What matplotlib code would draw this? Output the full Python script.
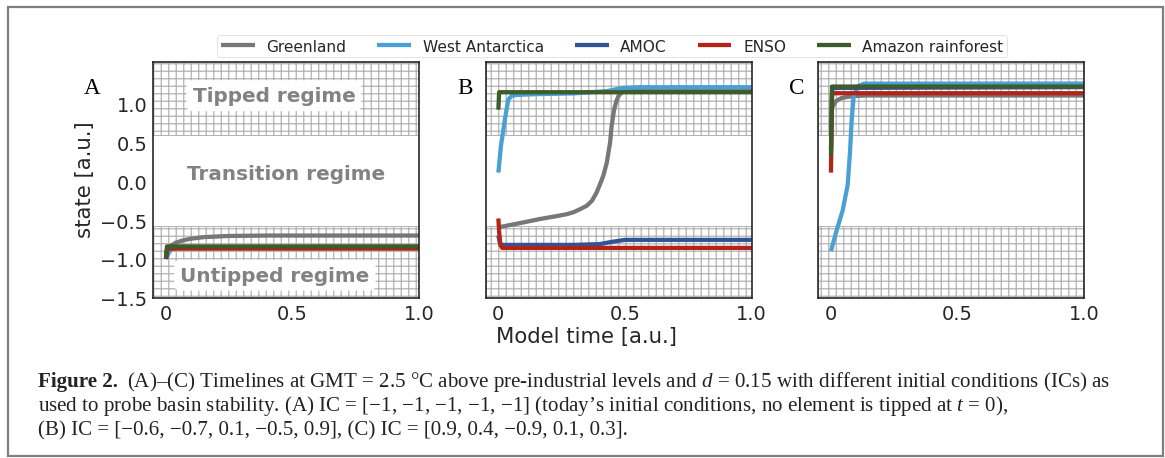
import numpy as np
import matplotlib.pyplot as plt
from matplotlib.patches import Rectangle

plt.rcParams['mathtext.fontset'] = 'custom'
plt.rcParams['mathtext.rm'] = 'Liberation Serif'
plt.rcParams['mathtext.it'] = 'Liberation Serif:italic'
plt.rcParams['hatch.linewidth'] = 1.0
plt.rcParams['hatch.color'] = '#b3b3b3'

elements = ['Greenland', 'West Antarctica', 'AMOC', 'ENSO', 'Amazon rainforest']
colors = ['#787676', '#4a9fd5', '#2f5597', '#b3231a', '#3c5c2a']

# panel A, IC = [-1, -1, -1, -1, -1]
a_gis_t = [0, 0.005, 0.02, 0.04, 0.07, 0.1, 0.15, 0.25, 0.4, 1.0]
a_gis = [-1.0, -0.9, -0.83, -0.79, -0.76, -0.74, -0.72, -0.705, -0.70, -0.70]
a_wais_t = [0, 0.01, 0.02, 0.04, 1.0]
a_wais = [-1.0, -0.93, -0.88, -0.86, -0.85]
a_amoc_t = [0, 0.005, 1.0]
a_amoc = [-1.0, -0.85, -0.845]
a_enso_t = [0, 0.005, 1.0]
a_enso = [-1.0, -0.868, -0.868]
a_amaz_t = [0, 0.004, 1.0]
a_amaz = [-1.0, -0.84, -0.84]

# panel B, IC = [-0.6, -0.7, 0.1, -0.5, 0.9]
b_gis_t = [0, 0.033, 0.1, 0.164, 0.23, 0.27, 0.296, 0.32, 0.349, 0.37, 0.388, 0.40,
           0.414, 0.428, 0.441, 0.447, 0.457, 0.466, 0.474, 0.483, 0.491, 0.51, 0.54, 1.0]
b_gis = [-0.594, -0.573, -0.53, -0.487, -0.45, -0.425, -0.40, -0.365, -0.316, -0.25, -0.145, -0.05,
         0.068, 0.239, 0.496, 0.709, 0.923, 1.03, 1.094, 1.13, 1.15, 1.165, 1.171, 1.171]
b_wais_t = [0, 0.01, 0.026, 0.039, 0.053, 0.072, 0.15, 0.3, 0.43, 0.49, 0.55, 1.0]
b_wais = [0.11, 0.45, 0.80, 1.05, 1.10, 1.11, 1.12, 1.13, 1.16, 1.20, 1.209, 1.209]
b_amoc_t = [0, 0.005, 0.01, 0.3, 0.4, 0.45, 0.5, 1.0]
b_amoc = [-0.70, -0.78, -0.82, -0.82, -0.81, -0.78, -0.756, -0.756]
b_enso_t = [0, 0.003, 0.008, 0.015, 1.0]
b_enso = [-0.48, -0.65, -0.82, -0.859, -0.859]
b_amaz_t = [0, 0.003, 1.0]
b_amaz = [0.92, 1.145, 1.145]

# panel C, IC = [0.9, 0.4, -0.9, 0.1, 0.3]
c_gis_t = [0, 0.007, 0.02, 0.04, 0.08, 0.14, 1.0]
c_gis = [0.93, 0.96, 1.03, 1.068, 1.094, 1.103, 1.103]
c_wais_t = [0, 0.02, 0.046, 0.066, 0.075, 0.082, 0.09, 0.105, 0.13, 1.0]
c_wais = [-0.90, -0.66, -0.38, -0.05, 0.37, 0.80, 1.10, 1.22, 1.255, 1.256]
c_amoc_t = [0, 0.005, 1.0]
c_amoc = [0.4, 1.2, 1.21]
c_enso_t = [0, 0.004, 1.0]
c_enso = [0.11, 1.132, 1.132]
c_amaz_t = [0, 0.004, 1.0]
c_amaz = [0.325, 1.218, 1.218]

panels = {
    'A': [(a_gis_t, a_gis), (a_wais_t, a_wais), (a_amoc_t, a_amoc), (a_enso_t, a_enso), (a_amaz_t, a_amaz)],
    'B': [(b_gis_t, b_gis), (b_wais_t, b_wais), (b_amoc_t, b_amoc), (b_enso_t, b_enso), (b_amaz_t, b_amaz)],
    'C': [(c_gis_t, c_gis), (c_wais_t, c_wais), (c_amoc_t, c_amoc), (c_enso_t, c_enso), (c_amaz_t, c_amaz)],
}

xticks = [0, 0.5, 1.0]
xticklabels = ['0', '0.5', '1.0']
yticks = [-1.5, -1.0, -0.5, 0.0, 0.5, 1.0]
regimes = ['Tipped regime', 'Transition regime', 'Untipped regime']

W, H, DPI = 1165, 459, 90
fig = plt.figure(figsize=(W / DPI, H / DPI), dpi=DPI)

lefts = [153.3, 485.7, 818.3]
ax_w = 266.0
ax_bottom, ax_top = 298.7, 63.3

axes = []
for i, (label, series) in enumerate(panels.items()):
    ax = fig.add_axes([lefts[i] / W, 1 - ax_bottom / H, ax_w / W, (ax_bottom - ax_top) / H])
    ax.axhspan(0.6, 2.0, facecolor='white', edgecolor='#b3b3b3', hatch='++', lw=0.8, zorder=0)
    ax.axhspan(-2.0, -0.575, facecolor='white', edgecolor='#b3b3b3', hatch='++', lw=0.8, zorder=0)
    for (t, v), name, c in zip(series, elements, colors):
        ax.plot(t, v, color=c, lw=3.4, label=name, solid_capstyle='butt', zorder=2)
    ax.set_xlim(-0.05, 1.0)
    ax.set_ylim(-1.5, 1.53)
    ax.set_xticks(xticks)
    ax.set_xticklabels(xticklabels)
    ax.set_yticks(yticks)
    if i > 0:
        ax.set_yticklabels([])
    ax.tick_params(length=0, pad=4.8, labelsize=15.5, colors='#262626')
    for sp in ax.spines.values():
        sp.set_linewidth(1.3)
        sp.set_color('#222222')
    fig.text([91.7, 465, 796.3][i] / W, 1 - 94.5 / H, label, family='Liberation Serif',
             fontsize=18.5, ha='center', va='baseline')
    axes.append(ax)

box = dict(boxstyle='round,pad=0.3', facecolor='white', edgecolor='none')
axes[0].text(0.426, 1.10, regimes[0], fontsize=16, weight='bold', color='#828282',
             ha='center', va='center', bbox=box, zorder=3)
axes[0].text(0.475, 0.10, regimes[1], fontsize=16, weight='bold', color='#828282',
             ha='center', va='center', bbox=box, zorder=3)
axes[0].text(0.43, -1.21, regimes[2], fontsize=16, weight='bold', color='#828282',
             ha='center', va='center', bbox=box, zorder=3)

fig.text(85 / W, 1 - 180 / H, 'state [a.u.]', rotation=90, fontsize=17,
         ha='center', va='center', color='#262626')
fig.text(587 / W, 1 - 336.7 / H, 'Model time [a.u.]', fontsize=17,
         ha='center', va='center', color='#262626')

handles, labels = axes[0].get_legend_handles_labels()
leg = fig.legend(handles, labels, loc='center', bbox_to_anchor=(612.3 / W, 1 - 47 / H),
                 ncol=5, fontsize=12.3, handlelength=2.2, handletextpad=0.76,
                 columnspacing=2.0, borderpad=0.25, frameon=True, fancybox=True)
leg.get_frame().set_edgecolor('#dedede')
leg.get_frame().set_linewidth(0.8)
for t in leg.get_texts():
    t.set_color('#262626')

# caption
cap_kw = dict(family='Liberation Serif', fontsize=16.8, color='#222222', va='baseline')
fig.text(38.3 / W, 1 - 386.5 / H, 'Figure 2.', weight='bold', **cap_kw)
fig.text(127 / W, 1 - 386.5 / H,
         '(A)\u2013(C) Timelines at GMT = 2.5 \u00b0C above pre-industrial levels and $d$ = 0.15 '
         'with different initial conditions (ICs) as', **cap_kw)
fig.text(38.3 / W, 1 - 411 / H,
         'used to probe basin stability. (A) IC = [\u22121, \u22121, \u22121, \u22121, \u22121] '
         '(today\u2019s initial conditions, no element is tipped at $t$ = 0),', **cap_kw)
fig.text(38.3 / W, 1 - 435 / H,
         '(B) IC = [\u22120.6, \u22120.7, 0.1, \u22120.5, 0.9], (C) IC = [0.9, 0.4, \u22120.9, 0.1, 0.3].',
         **cap_kw)

fig.patches.append(Rectangle((8 / W, 1 - 457 / H), 1154.7 / W, 449.3 / H,
                             transform=fig.transFigure, fill=False,
                             edgecolor='#808080', lw=1.8))

fig.savefig('out.png', dpi=DPI)
